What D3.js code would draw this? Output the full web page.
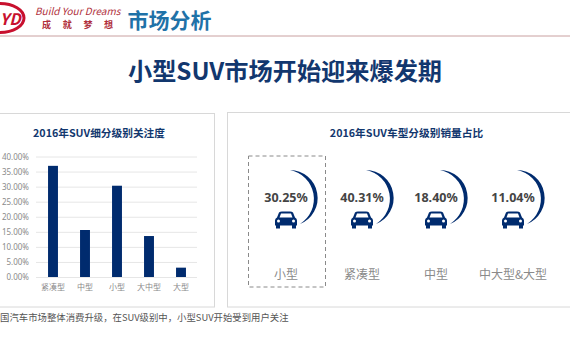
<!DOCTYPE html>
<html>
<head>
<meta charset="utf-8">
<script src="https://cdn.jsdelivr.net/npm/d3@7"></script>
<style>
  html, body { margin: 0; padding: 0; background: #fff; }
  svg { display: block; }
  text { font-family: "Noto Sans CJK SC", "Noto Sans", sans-serif; }
</style>
</head>
<body>
<div id="chart"></div>
<script>
// left chart
var barCategories = ["紧凑型", "中型", "小型", "大中型", "大型"];
var barValues = [36.9, 15.6, 30.3, 13.6, 3.1];
var yTicks = [0, 5, 10, 15, 20, 25, 30, 35, 40];

// right chart
var shareCategories = ["小型", "紧凑型", "中型", "中大型&大型"];
var shareValues = ["30.25%", "40.31%", "18.40%", "11.04%"];

var navy = "#002b6e";
var width = 570, height = 360;

var svg = d3.select("#chart").append("svg")
  .attr("width", width)
  .attr("height", height);

// header
svg.append("ellipse")
  .attr("cx", 0).attr("cy", 18).attr("rx", 24).attr("ry", 14.5)
  .attr("fill", "#fff").attr("stroke", "#c8102e").attr("stroke-width", 3);
svg.append("text")
  .attr("x", 0).attr("y", 25)
  .attr("font-size", 16).attr("font-weight", 700).attr("font-style", "italic")
  .attr("fill", "#c8102e").text("YD");
svg.append("text")
  .attr("x", 35).attr("y", 14.5)
  .attr("font-size", 10).attr("font-style", "italic")
  .attr("fill", "#b0303c").text("Build Your Dreams");
svg.append("text")
  .attr("x", 42).attr("y", 28)
  .attr("font-size", 9).attr("font-weight", 700).attr("letter-spacing", 11.7)
  .attr("fill", "#b0303c").text("成就梦想");
svg.append("text")
  .attr("x", 127.5).attr("y", 28)
  .attr("font-size", 21).attr("font-weight", 700)
  .attr("fill", "#1f72a8").text("市场分析");
svg.append("line")
  .attr("x1", 0).attr("x2", width).attr("y1", 36).attr("y2", 36)
  .attr("stroke", "#c9a0a0").attr("stroke-width", 1);

svg.append("text")
  .attr("x", 285).attr("y", 80)
  .attr("text-anchor", "middle")
  .attr("font-size", 24.2).attr("font-weight", 700)
  .attr("fill", "#12376e").text("小型SUV市场开始迎来爆发期");

// panels
svg.append("rect")
  .attr("x", -5).attr("y", 113.5).attr("width", 219.5).attr("height", 193.5)
  .attr("fill", "#fff").attr("stroke", "#d8d8d8");
svg.append("rect")
  .attr("x", 227.5).attr("y", 112.5).attr("width", 350).attr("height", 194.5)
  .attr("fill", "#fff").attr("stroke", "#d8d8d8");

svg.append("text")
  .attr("x", 99).attr("y", 137)
  .attr("text-anchor", "middle")
  .attr("font-size", 10.7).attr("font-weight", 700)
  .attr("fill", "#12376e").text("2016年SUV细分级别关注度");
svg.append("text")
  .attr("x", 406.5).attr("y", 137)
  .attr("text-anchor", "middle")
  .attr("font-size", 10.7).attr("font-weight", 700)
  .attr("fill", "#12376e").text("2016年SUV车型分级别销量占比");

// bar chart
var x = d3.scaleBand()
  .domain(barCategories)
  .range([37, 197])
  .paddingInner(0.69)
  .paddingOuter(0.345);
var y = d3.scaleLinear()
  .domain([0, 40])
  .range([277, 156.5]);

var yAxis = svg.append("g")
  .attr("transform", "translate(36,0)")
  .call(d3.axisLeft(y)
    .tickValues(yTicks)
    .tickSize(-161)
    .tickPadding(7)
    .tickFormat(function(d) { return d.toFixed(2) + "%"; }));
yAxis.select(".domain").remove();
yAxis.selectAll("line").attr("stroke", "#e6e6e6");
yAxis.selectAll("text")
  .attr("font-size", 8).attr("fill", "#8a8a8a")
  .style("font-family", '"Noto Sans", sans-serif');

var xAxis = svg.append("g")
  .attr("transform", "translate(0,277)")
  .call(d3.axisBottom(x).tickSize(0).tickPadding(7));
xAxis.select(".domain").remove();
xAxis.selectAll("text")
  .attr("font-size", 8).attr("fill", "#8a8a8a")
  .style("font-family", '"Noto Sans CJK SC", sans-serif');

svg.selectAll(".bar")
  .data(barValues)
  .enter().append("rect")
    .attr("class", "bar")
    .attr("x", function(d, i) { return x(barCategories[i]); })
    .attr("y", function(d) { return y(d); })
    .attr("width", x.bandwidth())
    .attr("height", function(d) { return y(0) - y(d); })
    .attr("fill", navy);

// highlight box around the first class
svg.append("rect")
  .attr("x", 248.5).attr("y", 156).attr("width", 77).attr("height", 131)
  .attr("fill", "none").attr("stroke", "#8a8a8a").attr("stroke-dasharray", "4,3");

// share items
var itemX = d3.scaleOrdinal()
  .domain(shareCategories)
  .range([286, 362, 436, 513]);

var items = svg.selectAll(".item")
  .data(shareCategories)
  .enter().append("g")
    .attr("class", "item")
    .attr("transform", function(d) { return "translate(" + itemX(d) + ",0)"; });

// crescent, two arcs between the same end points
items.append("path")
  .attr("d", "M4,170 A28,28 0 0 1 14,224 A29.5,29.5 0 0 0 4,170 Z")
  .attr("fill", navy);

items.append("text")
  .attr("y", 202)
  .attr("text-anchor", "middle")
  .attr("font-size", 12.5).attr("font-weight", 700)
  .attr("fill", "#444")
  .style("font-family", '"Noto Sans", sans-serif')
  .text(function(d, i) { return shareValues[i]; });

// car icon
var car = items.append("g").attr("transform", "translate(0,211.5)");
car.append("path")
  .attr("d", "M-7,1 Q-6,0 -4,0 L4,0 Q6,0 7,1 L9,6 Q11,7 11,9 L11,14 L-11,14 L-11,9 Q-11,7 -9,6 Z")
  .attr("fill", navy);
car.append("path")
  .attr("d", "M-5,2 L5,2 L6.5,6 L-6.5,6 Z")
  .attr("fill", "#fff");
car.append("rect").attr("x", -10).attr("y", 13).attr("width", 4).attr("height", 4).attr("fill", navy);
car.append("rect").attr("x", 6).attr("y", 13).attr("width", 4).attr("height", 4).attr("fill", navy);
car.append("circle").attr("cx", -7.5).attr("cy", 9.5).attr("r", 1.5).attr("fill", "#fff");
car.append("circle").attr("cx", 7.5).attr("cy", 9.5).attr("r", 1.5).attr("fill", "#fff");

items.append("text")
  .attr("y", 279)
  .attr("text-anchor", "middle")
  .attr("font-size", 12)
  .attr("fill", "#8a8a8a")
  .text(function(d) { return d; });

// footnote
svg.append("text")
  .attr("x", 0).attr("y", 321)
  .attr("font-size", 9.4)
  .attr("fill", "#555")
  .text("国汽车市场整体消费升级，在SUV级别中，小型SUV开始受到用户关注");
</script>
</body>
</html>
